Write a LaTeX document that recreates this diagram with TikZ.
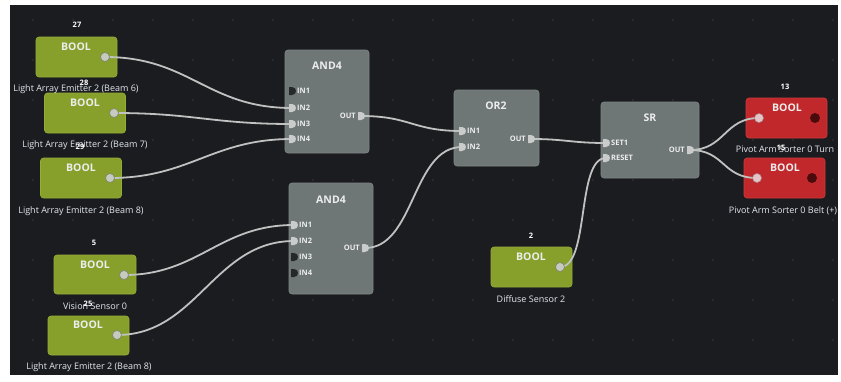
\documentclass[tikz,border=0pt]{standalone}
\usepackage{fontspec}
\setmainfont{Open Sans}
\definecolor{canvasbg}{HTML}{1B1C1F}
\definecolor{griddot}{HTML}{34373B}
\definecolor{gatefill}{HTML}{6F7776}
\definecolor{gateedge}{HTML}{7E8685}
\definecolor{boolgreen}{HTML}{87A02B}
\definecolor{booledge}{HTML}{96AE38}
\definecolor{boolred}{HTML}{C1282B}
\definecolor{rededge}{HTML}{CF3A3C}
\definecolor{wirec}{HTML}{BFC2C1}
\definecolor{portlit}{HTML}{C9CCCA}
\definecolor{portdark}{HTML}{26282A}
\definecolor{knob}{HTML}{C6CABF}
\definecolor{knobedge}{HTML}{7E846F}
\definecolor{knobpink}{HTML}{E6C3C6}
\definecolor{knobdark}{HTML}{4A0B0C}
\definecolor{captc}{HTML}{E2E8F0}
\definecolor{titlec}{HTML}{EDEDED}
\tikzset{
  gate/.style={fill=gatefill, draw=gateedge, line width=0.6pt, rounded corners=3pt,
    inner sep=0pt, minimum width=#1},
  boolbox/.style={fill=boolgreen, draw=booledge, line width=0.6pt, rounded corners=3pt,
    inner sep=0pt, minimum width=81pt, minimum height=40pt},
  redbox/.style={fill=boolred, draw=rededge, line width=0.6pt, rounded corners=3pt,
    inner sep=0pt, minimum width=81pt, minimum height=40pt},
  title/.style={text=titlec, font=\fontsize{10.5}{11}\selectfont\bfseries, inner sep=0pt},
  idtxt/.style={text=white, font=\fontsize{7.5}{8}\selectfont\bfseries, inner sep=0pt},
  caption/.style={text=captc, font=\fontsize{9}{10}\selectfont, inner sep=0pt},
  pintxt/.style={text=titlec, font=\fontsize{7.5}{8}\selectfont\bfseries, inner sep=0pt},
  knobc/.style={circle, fill=knob, draw=knobedge, line width=0.6pt, minimum size=9pt, inner sep=0pt},
  knobin/.style={circle, fill=knobpink, draw=knobpink!70!black, line width=0.5pt, minimum size=9pt, inner sep=0pt},
  knobout/.style={circle, fill=knobdark, minimum size=10pt, inner sep=0pt},
  wire/.style={draw=wirec, line width=1.8pt, line cap=round},
  porton/.pic={\fill[portlit] (-3,-4) -- (0,-4) .. controls (5.3,-4) and (5.3,4) .. (0,4) -- (-3,4) -- cycle;},
  portoff/.pic={\fill[portdark] (-3,-4) -- (0,-4) .. controls (5.3,-4) and (5.3,4) .. (0,4) -- (-3,4) -- cycle;},
}
\begin{document}
\begin{tikzpicture}[x=1pt,y=-1pt]
\useasboundingbox (0,0) rectangle (841,381);
\fill[white] (0,0) rectangle (841,381);
\fill[canvasbg] (10,5) rectangle (838,375);
% editor grid
\foreach \gx in {33,73,...,833}
  \foreach \gy in {20,60,...,340}
    \fill[griddot] (\gx,\gy) circle[radius=0.8pt];

% ---------- input BOOL blocks ----------
\node[boolbox] (b1) at (76.5,57) {};
\node[boolbox] (b2) at (85,113) {};
\node[boolbox] (b3) at (81,178) {};
\node[boolbox, minimum width=82pt, minimum height=39pt] (b4) at (95,274.5) {};
\node[boolbox, minimum height=39pt] (b5) at (88.5,335.5) {};
\node[boolbox] (bd) at (531.5,267) {};
\foreach \b/\tx/\ty in {b1/76/47, b2/85/103, b3/81/168, b4/95/265, b5/88/325, bd/531/257}
  \node[title] (\b t) at (\tx,\ty) {BOOL};

% ---------- output BOOL blocks ----------
\node[redbox] (r1) at (786.5,118) {};
\node[redbox] (r2) at (784.5,178) {};
\node[title] (r1t) at (787,108) {BOOL};
\node[title] (r2t) at (785,168) {BOOL};

% ---------- logic gates ----------
\node[gate=84pt, minimum height=103pt] (g1) at (327,101.5) {};
\node[gate=84pt, minimum height=111pt] (g2) at (331,238.5) {};
\node[gate=85pt, minimum height=76pt] (g3) at (496.5,128) {};
\node[gate=98pt, minimum height=76pt] (g4) at (650,140) {};
\node[title] (g1t) at (327,66) {AND4};
\node[title] (g2t) at (331,200) {AND4};
\node[title] (g3t) at (496,106) {OR2};
\node[title] (g4t) at (650,118) {SR};

% pin positions
\coordinate (g1i1) at (292,91);
\coordinate (g1i2) at (292,108);
\coordinate (g1i3) at (292,124);
\coordinate (g1i4) at (292,139);
\coordinate (g1o)  at (361,116);
\coordinate (g2i1) at (294,225);
\coordinate (g2i2) at (294,241);
\coordinate (g2i3) at (294,257);
\coordinate (g2i4) at (294,273);
\coordinate (g2o)  at (365,248);
\coordinate (g3i1) at (462,131);
\coordinate (g3i2) at (462,147);
\coordinate (g3o)  at (531,139);
\coordinate (g4s)  at (606,143);
\coordinate (g4r)  at (606,158);
\coordinate (g4o)  at (690,150);

% pin captions
\foreach \p/\t in {g1i1/IN1, g1i2/IN2, g1i3/IN3, g1i4/IN4, g2i1/IN1, g2i2/IN2, g2i3/IN3, g2i4/IN4, g3i1/IN1, g3i2/IN2, g4s/SET1, g4r/RESET}
  \node[pintxt, anchor=west] (\p l) at ([xshift=5pt]\p) {\t};
\foreach \p in {g1o, g2o, g3o, g4o}
  \node[pintxt, anchor=east] (\p l) at ([xshift=-5pt]\p) {OUT};

% ---------- connectors ----------
\coordinate (b1o) at (105,57);
\coordinate (b2o) at (114,113);
\coordinate (b3o) at (110,178);
\coordinate (b4o) at (124,275);
\coordinate (b5o) at (117,335);
\coordinate (bdo) at (560,267);
\coordinate (r1i) at (759,118);
\coordinate (r2i) at (757,178);
\coordinate (r1o) at (815,118);
\coordinate (r2o) at (812,178);

\draw[wire] (b1o) .. controls +(85,0) and +(-85,0) .. (g1i2);
\draw[wire] (b2o) .. controls +(80,0) and +(-80,0) .. (g1i3);
\draw[wire] (b3o) .. controls +(80,0) and +(-80,0) .. (g1i4);
\draw[wire] (b4o) .. controls +(75,0) and +(-75,0) .. (g2i1);
\draw[wire] (b5o) .. controls +(80,0) and +(-80,0) .. (g2i2);
\draw[wire] (g1o) .. controls +(50,0) and +(-50,0) .. (g3i1);
\draw[wire] (g2o) .. controls +(50,0) and +(-50,0) .. (g3i2);
\draw[wire] (g3o) .. controls +(35,0) and +(-35,0) .. (g4s);
\draw[wire] (bdo) .. controls +(30,0) and +(-30,0) .. (g4r);
\draw[wire] (g4o) .. controls +(35,0) and +(-35,0) .. (r1i);
\draw[wire] (g4o) .. controls +(35,0) and +(-35,0) .. (r2i);

% pin glyphs
\foreach \p in {g1i2, g1i3, g1i4, g1o, g2i1, g2i2, g2o, g3i1, g3i2, g3o, g4s, g4r, g4o}
  \pic at (\p) {porton};
\foreach \p in {g1i1, g2i3, g2i4}
  \pic at (\p) {portoff};

% value knobs
\foreach \k in {b1o, b2o, b3o, b4o, b5o, bdo}
  \node[knobc] at (\k) {};
\node[knobin] at (r1i) {};
\node[knobin] at (r2i) {};
\node[knobout] at (r1o) {};
\node[knobout] at (r2o) {};

% ---------- ids and captions ----------
\node[caption] (b1c) at (76,89) {Light Array Emitter 2 (Beam 6)};
\node[caption] (b2c) at (85,145) {Light Array Emitter 2 (Beam 7)};
\node[caption] (b3c) at (81,211) {Light Array Emitter 2 (Beam 8)};
\node[caption] (b4c) at (95,306) {Vision Sensor 0};
\node[caption] (b5c) at (89,367) {Light Array Emitter 2 (Beam 8)};
\node[caption] (bdc) at (531,299) {Diffuse Sensor 2};
\node[caption] (r1c) at (785,149) {Pivot Arm Sorter 0 Turn};
\node[caption] (r2c) at (783,211) {Pivot Arm Sorter 0 Belt (+)};

\node[idtxt] (b1n) at (77,25) {27};
\node[idtxt] (b2n) at (84,83) {28};
\node[idtxt] (b3n) at (80,147) {29};
\node[idtxt] (b4n) at (94,243) {5};
\node[idtxt] (b5n) at (88,304) {25};
\node[idtxt] (bdn) at (531,236) {2};
\node[idtxt] (r1n) at (785,87) {13};
\node[idtxt] (r2n) at (781,148) {15};
\end{tikzpicture}
\end{document}
